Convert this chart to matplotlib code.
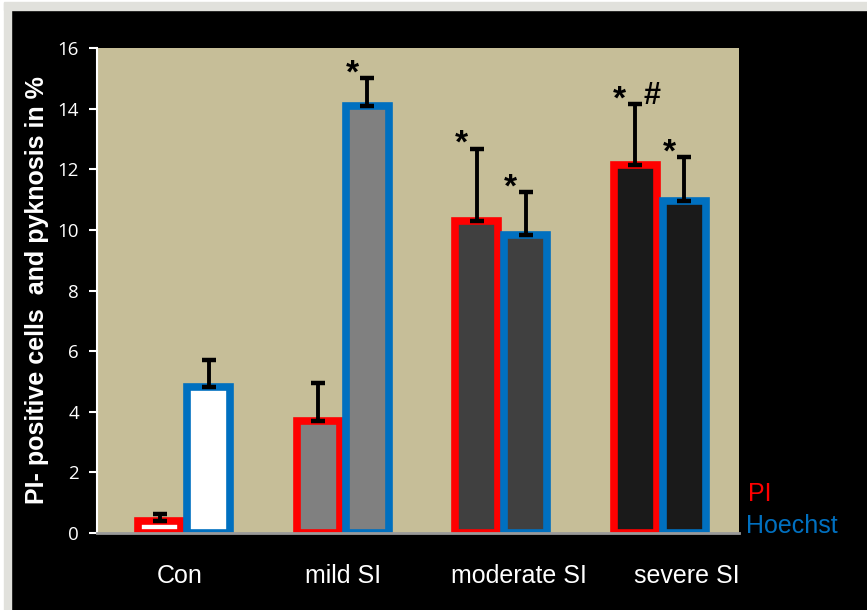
import numpy as np
import matplotlib
matplotlib.use("Agg")
import matplotlib.pyplot as plt
from matplotlib.patches import Rectangle

## data
groups = ["Con", "mild SI", "moderate SI", "severe SI"]
pi_mean = [0.40, 3.70, 10.30, 12.15]
pi_err = [0.22, 1.25, 2.37, 2.00]
hoe_mean = [4.82, 14.10, 9.83, 10.95]
hoe_err = [0.88, 0.90, 1.42, 1.45]
pi_marks = ["", "", "*", "*"]
hoe_marks = ["", "*", "*", "*"]
hash_marks = ["", "", "", "#"]
fills = ["#FFFFFF", "#808080", "#404040", "#1A1A1A"]

## colours
tan = "#C6BE98"
red = "#FF0000"
blue = "#0070C0"

fig = plt.figure(figsize=(8.67, 6.10), dpi=100, facecolor="black")
W, H = 867.0, 610.0
# light frame on the left and top
fig.patches.append(Rectangle((0, 0), 4 / W, 1, transform=fig.transFigure, color="white", zorder=0))
fig.patches.append(Rectangle((4 / W, 0), 7 / W, 1, transform=fig.transFigure, color="#E1E1DC", zorder=0))
fig.patches.append(Rectangle((0, 1 - 2 / H), 1, 2 / H, transform=fig.transFigure, color="white", zorder=0))
fig.patches.append(Rectangle((4 / W, 1 - 10 / H), 1, 8 / H, transform=fig.transFigure, color="#E1E1DC", zorder=0))

ax = fig.add_axes([97 / W, 1 - 533 / H, (739 - 97) / W, (533 - 48) / H])
ax.set_facecolor(tan)

x = np.arange(len(groups))
w = 0.27
off = 0.155

ax.bar(x - off, pi_mean, w, color=fills, edgecolor=red, linewidth=5.5, zorder=2)
ax.bar(x + off, hoe_mean, w, color=fills, edgecolor=blue, linewidth=5.5, zorder=3)

ax.errorbar(x - off, pi_mean, yerr=[np.zeros(4), pi_err], fmt="none", ecolor="black",
            elinewidth=2.8, capsize=5, capthick=3.2, zorder=4)
ax.errorbar(x + off, hoe_mean, yerr=[np.zeros(4), hoe_err], fmt="none", ecolor="black",
            elinewidth=2.8, capsize=5, capthick=3.2, zorder=4)

mark_font = dict(ha="center", va="bottom", fontweight="bold", family="Liberation Sans",
                 textcoords="offset points")
for i in range(len(groups)):
    top = pi_mean[i] + pi_err[i]
    if pi_marks[i]:
        ax.annotate(pi_marks[i], (x[i] - off, top), xytext=(-11, -8), fontsize=24, **mark_font)
    if hash_marks[i]:
        ax.annotate(hash_marks[i], (x[i] - off, top), xytext=(12, -5), fontsize=22, **mark_font)
    top = hoe_mean[i] + hoe_err[i]
    if hoe_marks[i]:
        ax.annotate(hoe_marks[i], (x[i] + off, top), xytext=(-11, -8), fontsize=24, **mark_font)

ax.set_xlim(-0.55, 3.5)
ax.set_ylim(0, 16)
ax.set_yticks(range(0, 17, 2))
ax.tick_params(axis="y", colors="white", direction="out", length=6, width=1.5, pad=7,
               labelsize=13.5)
for lab in ax.get_yticklabels():
    lab.set_family("Open Sans")

ax.set_xticks(x + np.array([-0.03, 0.0, 0.11, 0.17]))
ax.set_xticklabels(groups, family="Liberation Sans", fontsize=18, color="white")
ax.tick_params(axis="x", length=0, pad=22)

ax.spines["top"].set_visible(False)
ax.spines["right"].set_visible(False)
ax.spines["left"].set_color("white")
ax.spines["left"].set_linewidth(1.5)
ax.spines["bottom"].set_color("#9A9A9A")
ax.spines["bottom"].set_linewidth(2)
ax.spines["bottom"].set_zorder(5)

ax.set_ylabel("PI- positive cells  and pyknosis in %", family="Liberation Sans",
              fontsize=18, fontweight="bold", color="white", labelpad=6)

fig.text(748 / W, 1 - 494 / H, "PI", color=red, fontsize=18, family="Liberation Sans", va="center")
fig.text(746 / W, 1 - 526 / H, "Hoechst", color=blue, fontsize=18, family="Liberation Sans", va="center")

fig.savefig("out.png", dpi=100, facecolor=fig.get_facecolor())
